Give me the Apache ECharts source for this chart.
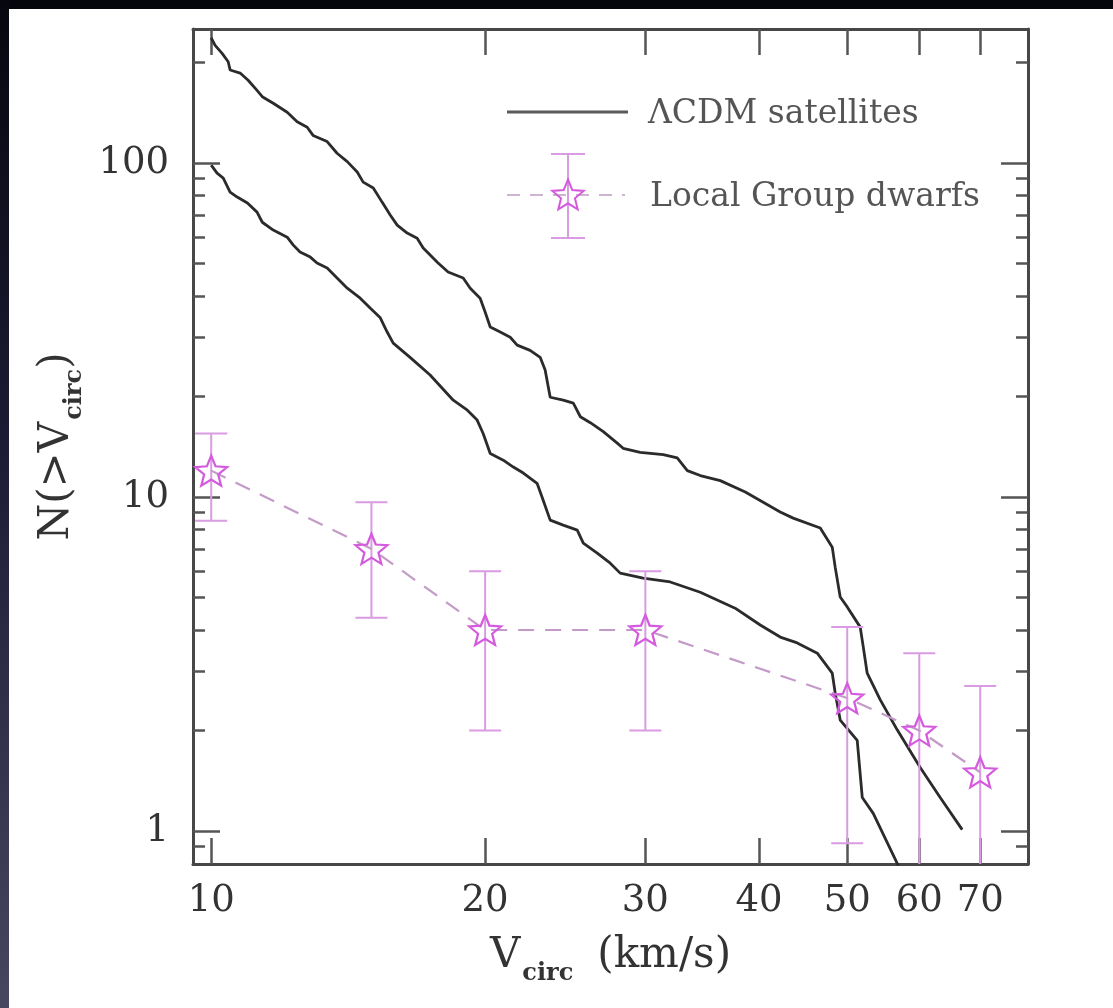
<!DOCTYPE html>
<html><head><meta charset="utf-8">
<script src="https://cdn.jsdelivr.net/npm/echarts@6/dist/echarts.min.js"></script>
<style>
html,body{margin:0;padding:0;width:1113px;height:1008px;background:#05050c;overflow:hidden}
#strip{position:absolute;left:0;top:0;width:9px;height:1008px;background:linear-gradient(#07070f,#1c1c35 45%,#47475f)}
#chart{position:absolute;left:9px;top:9px;width:1104px;height:999px;background:#fff}
</style></head><body><div id="strip"></div><div id="chart"></div>
<script>
// ---- data ----
const xTicks = [10, 20, 30, 40, 50, 60, 70];
const yMajor = [1, 10, 100];
const yMinor = [0.9, 2, 3, 4, 5, 6, 7, 8, 9, 20, 30, 40, 50, 60, 70, 80, 90, 200];

const satHighV = [10.0,10.1,10.28,10.44,10.49,10.76,10.98,11.23,11.38,11.70,12.12,12.43,12.75,12.94,13.41,13.75,14.11,14.47,14.69,15.07,15.41,15.73,16.01,16.42,16.84,17.10,17.72,18.21,18.92,19.26,19.75,20.00,20.26,20.78,21.31,21.69,22.41,22.99,23.28,23.58,24.37,25.00,25.45,26.10,26.97,27.94,28.36,29.61,31.39,32.52,33.36,34.47,36.26,38.63,42.20,43.61,46.70,48.14,48.50,49.12,50.00,51.67,52.07,52.59,54.36,56.74,60.14,63.26,66.88];
const satHighN = [237,225,213,201,190,186,177,165,158,151,142,133,128,121,116,107,101,94.0,87.7,84.2,76.4,69.9,65.2,61.7,59.6,55.7,50.5,47.2,45.3,42.2,39.4,35.8,32.3,31.2,30.1,28.5,27.5,26.2,24.0,19.9,19.5,19.1,17.4,16.7,15.7,14.5,14.0,13.6,13.4,13.1,12.0,11.6,11.2,10.35,9.02,8.65,8.08,7.08,6.17,5.02,4.69,4.08,3.56,2.97,2.47,2.01,1.55,1.26,1.01];

const satLowV = [10.0,10.15,10.31,10.49,10.68,10.96,11.23,11.38,11.70,12.12,12.31,12.52,12.85,13.07,13.41,13.75,14.11,14.58,14.95,15.34,15.61,15.85,16.54,17.40,18.45,19.12,19.60,19.90,20.26,20.94,21.48,22.03,22.81,23.16,23.58,24.37,25.25,25.64,26.56,27.45,28.15,29.83,31.95,34.47,37.65,40.12,42.20,44.06,46.35,48.14,48.50,49.12,51.28,51.94,53.40,56.74,57.90];
const satLowN = [98.6,93.3,90.2,81.9,79.1,75.9,71.3,66.5,63.0,60.0,56.8,54.2,52.3,50.2,48.5,45.3,42.2,39.4,36.8,34.4,31.2,28.9,26.2,23.2,19.5,18.2,17.0,15.5,13.5,12.9,12.3,11.8,11.0,9.80,8.53,8.24,7.96,7.28,6.80,6.34,5.92,5.72,5.57,5.19,4.65,4.14,3.81,3.66,3.41,2.97,2.59,2.15,1.87,1.26,1.13,0.80,0.71];

const dwarfV  = [10, 15, 20, 30, 50, 60, 70];
const dwarfN  = [12, 7, 4, 4, 2.5, 2, 1.5];
const dwarfLo = [8.5, 4.35, 2, 2, 0.92, 0.59, 0.28];
const dwarfHi = [15.5, 9.65, 6, 6, 4.08, 3.41, 2.72];

const seriesNames = ['ΛCDM satellites', 'Local Group dwarfs'];

// ---- styles ----
const X_MIN = 9.55, X_MAX = 79.0, Y_MIN = 0.797, Y_MAX = 252;
const FONT = 'DejaVu Serif';
const FRAME = '#474747', TICK = '#555555';
const CURVE = '#2b2b2b', ERR = '#d99be2', STAR_C = '#d45ade', DASH = '#c49bc8';
const STAR = 'path://M50 0 L62.9 32.2 L97.6 34.5 L70.9 56.8 L79.4 90.5 L50 72 L20.6 90.5 L29.1 56.8 L2.4 34.5 L37.1 32.2 Z';

function starPoints(cx, cy, R, r) {
  const pts = [];
  for (let k = 0; k < 10; k++) {
    const ang = -Math.PI / 2 + k * Math.PI / 5;
    const rad = k % 2 === 0 ? R : r;
    pts.push([cx + rad * Math.cos(ang), cy + rad * Math.sin(ang)]);
  }
  return pts;
}

const pair = (a, b) => a.map((v, i) => [v, b[i]]);

const frameLine = {show: true, lineStyle: {color: FRAME, width: 3}};
const labelStyle = {fontFamily: FONT, fontSize: 37, color: '#333'};

function xAx(pos, withLabels) {
  return {
    type: 'log', logBase: 10, min: X_MIN, max: X_MAX, position: pos,
    axisLine: frameLine,
    axisTick: {show: true, inside: true, length: 26, customValues: xTicks, lineStyle: {color: TICK, width: 2.5}},
    axisLabel: withLabels ? Object.assign({show: true, customValues: xTicks, margin: 19, interval: 0,
      formatter: v => String(Math.round(v))}, labelStyle) : {show: false},
    splitLine: {show: false}, minorTick: {show: false}, minorSplitLine: {show: false}
  };
}
function yAx(pos, major, withLabels) {
  return {
    type: 'log', logBase: 10, min: Y_MIN, max: Y_MAX, position: pos,
    axisLine: major ? frameLine : {show: false},
    axisTick: {show: true, inside: true, length: major ? 27 : 12, customValues: major ? yMajor : yMinor,
      lineStyle: {color: TICK, width: 2.5}},
    axisLabel: withLabels ? Object.assign({show: true, customValues: yMajor, margin: 24, interval: 0,
      formatter: v => String(Math.round(v))}, labelStyle) : {show: false},
    splitLine: {show: false}, minorTick: {show: false}, minorSplitLine: {show: false}
  };
}

const xBottom = xAx('bottom', true);
Object.assign(xBottom, {
  name: '{m|V}{s|circ}{p|(km/s)}', nameLocation: 'middle', nameGap: 62, nameMoveOverlap: false,
  nameTextStyle: {fontFamily: FONT, fontSize: 42, color: '#333', rich: {
    m: {fontFamily: FONT, fontSize: 42, color: '#333'},
    s: {fontFamily: FONT, fontSize: 24, fontWeight: 'bold', color: '#333', padding: [36, 0, 0, 2]},
    p: {fontFamily: FONT, fontSize: 42, color: '#333', padding: [0, 0, 0, 24]}
  }}
});
const yLeft = yAx('left', true, true);
Object.assign(yLeft, {
  name: '{m|N(>V}{s|circ}{m|)}', nameLocation: 'middle', nameGap: 106, nameRotate: 90, nameMoveOverlap: false,
  nameTextStyle: {fontFamily: FONT, fontSize: 42, color: '#333', rich: {
    m: {fontFamily: FONT, fontSize: 42, color: '#333'},
    s: {fontFamily: FONT, fontSize: 24, fontWeight: 'bold', color: '#333', padding: [36, 0, 0, 2]}
  }}
});

function renderErr(params, api) {
  const x = api.value(0), lo = api.value(1), hi = api.value(2);
  const a = api.coord([x, lo]), b = api.coord([x, hi]);
  const hw = 16, st = {stroke: ERR, lineWidth: 2};
  return {type: 'group', children: [
    {type: 'line', shape: {x1: a[0], y1: a[1], x2: b[0], y2: b[1]}, style: st},
    {type: 'line', shape: {x1: a[0] - hw, y1: a[1], x2: a[0] + hw, y2: a[1]}, style: st},
    {type: 'line', shape: {x1: b[0] - hw, y1: b[1], x2: b[0] + hw, y2: b[1]}, style: st}
  ]};
}

const chart = echarts.init(document.getElementById('chart'), null, {renderer: 'canvas'});
chart.setOption({
  animation: false,
  backgroundColor: '#ffffff',
  grid: {left: 184, right: 85, top: 20, bottom: 144, containLabel: false},
  xAxis: [xBottom, xAx('top', false)],
  yAxis: [yLeft, yAx('left', false, false), yAx('right', true, false), yAx('right', false, false)],
  series: [
    {type: 'line', name: seriesNames[0], data: pair(satHighV, satHighN), symbol: 'none', clip: true,
      lineStyle: {color: CURVE, width: 2.8}, z: 3},
    {type: 'line', name: seriesNames[0], data: pair(satLowV, satLowN), symbol: 'none', clip: true,
      lineStyle: {color: CURVE, width: 2.8}, z: 3},
    {type: 'custom', name: seriesNames[1], data: dwarfV.map((v, i) => [v, dwarfLo[i], dwarfHi[i]]),
      encode: {x: 0, y: [1, 2]}, renderItem: renderErr, clip: true, z: 4},
    {type: 'line', name: seriesNames[1], data: pair(dwarfV, dwarfN), clip: true,
      symbol: STAR, symbolSize: [32, 30], showSymbol: true,
      lineStyle: {color: DASH, width: 2.2, type: [16, 11]},
      itemStyle: {color: 'rgba(255,255,255,0)', borderColor: STAR_C, borderWidth: 2.2}, z: 5}
  ],
  graphic: [
    {type: 'line', shape: {x1: 498, y1: 103, x2: 619, y2: 103}, style: {stroke: '#5a5a5a', lineWidth: 3}},
    {type: 'text', x: 639, y: 105, style: {text: seriesNames[0], font: '33px "DejaVu Serif"', fill: '#555',
      verticalAlign: 'middle', textVerticalAlign: 'middle'}},
    {type: 'line', shape: {x1: 498, y1: 186, x2: 616, y2: 186}, style: {stroke: '#cdb4d0', lineWidth: 2, lineDash: [13, 10]}},
    {type: 'line', shape: {x1: 559, y1: 145, x2: 559, y2: 229}, style: {stroke: ERR, lineWidth: 2}},
    {type: 'line', shape: {x1: 542, y1: 145, x2: 576, y2: 145}, style: {stroke: ERR, lineWidth: 2}},
    {type: 'line', shape: {x1: 542, y1: 229, x2: 576, y2: 229}, style: {stroke: ERR, lineWidth: 2}},
    {type: 'polygon', shape: {points: starPoints(559, 187, 16.5, 7.3)},
      style: {fill: 'rgba(255,255,255,0)', stroke: STAR_C, lineWidth: 2}},
    {type: 'text', x: 641, y: 188, style: {text: seriesNames[1], font: '33px "DejaVu Serif"', fill: '#555',
      verticalAlign: 'middle', textVerticalAlign: 'middle'}}
  ]
});
</script></body></html>
